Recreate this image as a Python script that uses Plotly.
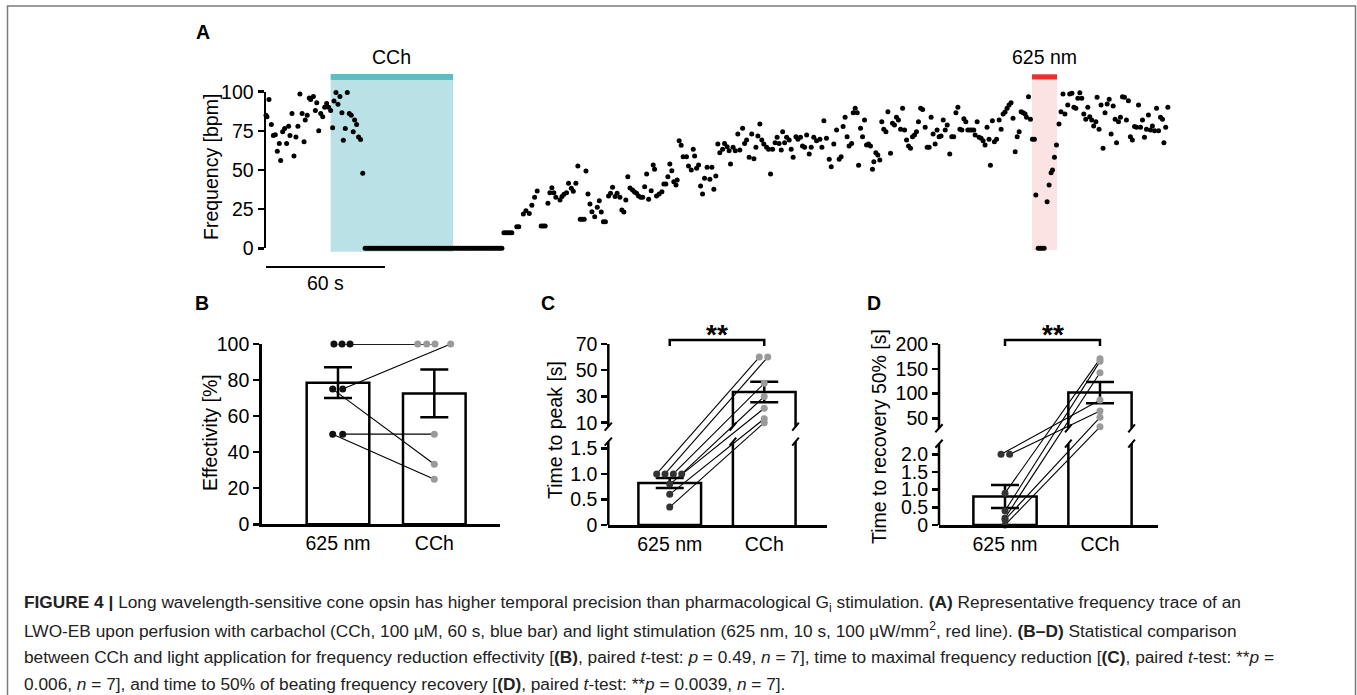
import numpy as np
import plotly.graph_objects as go

W, H = 1357, 695
FONT = "Liberation Sans, Arial, sans-serif"

# ---------------- panel A: beat frequency (bpm), ~1 reading per second ----------------
a_t_pre = [0, 0.5, 1.5, 2.7, 3.7, 4.7, 5.7, 6.7, 7.4, 8.4, 9.4, 10.4, 11.4, 12.1, 13.1, 14.1,
           15.1, 16.1, 17.1, 18.2, 19.2, 19.8, 20.8, 21.8, 22.5, 23.9, 24.9, 25.6, 26.6, 27.6,
           28.6, 29.6, 30.6, 31.6, 32.6, 33.6, 34.3, 35.3, 36.3, 37.3, 38.3, 39, 40, 41, 42,
           43, 44, 44.7, 45.7, 46.7, 47.7, 48.8]
a_f_pre = [85, 84, 95, 79, 72, 72.5, 62, 67, 56, 74.5, 76.5, 67, 78, 72, 86, 59,
           71, 78, 98.5, 86, 68, 82, 85, 96, 95, 97, 88, 93, 75, 86,
           84, 90, 92.5, 90, 88, 77, 94, 99.5, 92, 97, 86.5, 69, 76.5, 99.5, 86,
           85, 74.5, 82, 79, 71, 69.5, 48]

# runs of identical readings: start (s), end (s), value (bpm)
run_start = [50, 120, 126.5, 138.8, 158.5, 170.2, 389.5]
run_end = [119, 124, 127.5, 140.8, 160.5, 171.2, 392.5]
run_bpm = [0, 10, 13.8, 14.2, 18.5, 17, 0]

a_t_rec1 = [129.8, 131.1, 132.8, 134.1, 135.5, 136.8, 142.2, 143.2, 144.2, 145.2,
            146.2, 148.3, 149.3, 150.3, 151.6, 152.6, 154.0, 155.0, 156.3, 157.3]
a_f_rec1 = [21.9, 24.0, 22.3, 27.5, 32.6, 36.6, 28.7, 35.5, 38.7, 35.5,
            32.6, 30.8, 33.0, 34.5, 35.5, 41.5, 38.3, 36.4, 41.5, 52.6]

a_t_rec2 = [161.4, 162.4, 163.4, 164.4, 165.8, 167.1, 168.1, 169.1]
a_f_rec2 = [49.4, 34.7, 28.3, 23.4, 20.2, 26.2, 30.4, 23.2]

a_t_rec3 = [172.8, 173.8, 174.8, 176.1, 177.1, 178.5, 179.5, 180.5, 181.5, 182.5,
            183.6, 184.9, 185.9, 186.9, 187.9, 189.0, 190.0, 191.0, 192.0, 193.0,
            194.3, 195.3, 196.0, 197.0, 198.3, 199.7, 200.7, 201.7, 202.7, 203.7,
            204.7, 205.7, 206.8, 207.4, 208.4, 209.4, 210.4, 212.1, 213.1, 214.5,
            215.5, 216.2, 217.2, 218.2, 219.2, 220.2, 221.2, 222.5, 223.9, 224.9,
            225.9, 226.9, 227.9, 228.9, 230.3, 231.3, 232.6, 233.6, 234.3, 235.6,
            236.7, 238.0, 239.0, 240.4, 241.4, 242.4, 243.7, 245.0, 246.1, 247.1,
            248.1, 249.1, 250.1, 251.1, 252.5, 253.5, 254.5, 255.5, 256.8, 257.8,
            258.8, 259.9, 260.6, 261.6, 262.6, 263.9, 264.9, 265.9, 267.3, 268.3,
            269.6, 270.6, 271.7, 272.7, 274.0, 275.0, 276.3, 277.7]
a_f_rec3 = [33.4, 35.1, 39.0, 33.0, 35.1, 32.6, 24.5, 23.2, 30.8, 45.7,
            38.5, 37.2, 36.0, 35.1, 33.4, 32.6, 32.6, 39.3, 47.4, 31.3,
            36.8, 53.2, 50.4, 33.4, 34.7, 36.1, 41.0, 41.0, 45.7, 53.8,
            49.6, 42.5, 40.4, 43.6, 68.7, 65.8, 58.5, 58.5, 52.6, 50.0,
            63.2, 58.9, 51.1, 53.2, 39.8, 34.7, 44.7, 51.7, 44.1, 51.7,
            37.7, 46.2, 66.6, 61.0, 63.2, 67.0, 64.9, 62.3, 53.8, 64.5,
            62.3, 73.0, 62.8, 76.6, 67.0, 69.2, 58.1, 73.0, 57.2, 64.5,
            71.7, 79.4, 69.2, 66.6, 64.5, 63.2, 47.4, 63.2, 67.4, 70.9,
            67.0, 62.8, 74.5, 67.4, 70.9, 69.2, 63.2, 58.1, 71.3, 69.6,
            70.9, 65.3, 64.5, 72.3, 60.2, 64.5, 70.9, 68.7]

a_t_rec4 = [279.4, 280.4, 281.4, 282.7, 284.1, 285.1, 286.4, 287.8, 289.1, 290.1,
            291.1, 292.1, 293.1, 294.1, 295.4, 296.2, 297.2, 298.2, 298.9, 299.9,
            300.9, 301.9, 302.9, 303.9, 304.9, 305.9, 306.6, 307.6, 308.6, 309.6,
            310.6, 311.6, 312.7, 313.7, 315.0, 316.0, 317.0, 318.0, 319.0, 320.1,
            321.1, 322.1, 323.1, 324.1, 325.1, 326.1, 327.1, 328.1, 329.1, 330.2,
            331.2, 332.5, 333.5, 334.5, 335.5, 336.5, 337.5, 338.5, 339.5, 340.5,
            341.6, 342.6, 343.6, 344.9, 345.9, 346.9, 348.0, 349.0, 350.0, 351.0,
            352.0, 353.0, 354.0, 355.0, 356.0, 357.0, 357.7, 358.7, 359.7, 360.7,
            361.7, 362.7, 363.7, 364.7, 365.4, 366.4, 367.4, 368.5, 369.8, 370.8,
            371.8, 372.8, 373.8, 374.8, 375.8, 376.8, 377.9, 378.9, 379.9, 380.9,
            381.9, 382.9, 383.6, 384.6, 385.6, 386.6, 387.6, 388.3]
a_f_rec4 = [69.6, 64.5, 81.5, 70.2, 56.8, 52.1, 66.6, 75.5, 56.8, 58.5,
            77.7, 83.7, 71.3, 65.3, 67.0, 86.6, 89.4, 86.6, 53.0, 76.6,
            71.3, 81.9, 66.0, 66.6, 65.3, 50.4, 55.3, 61.0, 59.6, 56.4,
            80.8, 76.0, 74.5, 87.2, 60.7, 79.8, 78.7, 83.7, 81.9, 76.0,
            89.4, 75.5, 69.2, 65.3, 63.9, 71.3, 72.3, 74.5, 80.8, 89.4,
            88.7, 77.3, 64.5, 64.5, 83.7, 73.0, 66.6, 75.5, 71.3, 71.7,
            81.9, 75.5, 78.7, 60.2, 71.3, 71.3, 86.6, 90.0, 76.0, 75.5,
            82.8, 80.8, 75.5, 75.5, 75.5, 75.5, 72.3, 80.8, 70.9, 70.2,
            68.7, 66.0, 77.3, 69.6, 53.0, 81.5, 68.1, 69.6, 81.9, 76.0,
            85.8, 87.0, 89.4, 91.5, 93.0, 83.0, 61.7, 71.3, 74.5, 87.2,
            86.6, 85.8, 83.7, 96.8, 82.4, 69.6, 69.6, 34.0]

a_t_rec5 = [394.0, 395.0, 396.0, 396.7, 397.7, 398.7, 400.0, 401.0, 402.0, 403.0,
            404.4, 405.4, 406.5, 407.5, 408.5, 409.5, 410.5, 411.5, 412.5, 413.5,
            414.5, 415.5, 416.5, 417.5, 418.6, 419.2, 420.2, 421.2, 422.2, 423.2,
            424.3, 425.3, 426.3, 427.3, 428.3, 429.0, 430.0, 431.0, 432.0, 433.0,
            434.0, 435.0, 436.0, 437.0, 438.1, 439.1, 440.1, 441.1, 442.1, 443.1,
            444.1, 445.1, 446.1, 447.1, 448.2, 449.2, 450.2, 451.2, 452.2, 452.9,
            453.8, 454.9]
a_f_rec5 = [29.8, 40.4, 48.3, 50.0, 58.1, 66.0, 79.4, 87.2, 98.5, 85.8,
            91.5, 98.5, 99.0, 90.0, 89.4, 95.8, 99.4, 95.8, 85.8, 82.4,
            90.0, 84.0, 81.9, 78.1, 80.8, 96.4, 76.0, 91.5, 63.9, 86.6,
            92.1, 95.1, 73.0, 90.9, 82.4, 67.4, 80.8, 83.7, 96.8, 96.4,
            81.9, 94.3, 71.3, 69.2, 77.7, 77.3, 91.5, 77.3, 81.9, 70.9,
            76.0, 85.1, 75.5, 78.1, 75.1, 89.4, 75.1, 83.7, 82.4, 67.4,
            77.3, 90.0]

cch_on, cch_off = 32.6, 94.4       # s
light_on, light_off = 386.4, 399.0  # s
scale_bar_s = 60

# ---------------- panels B-D: paired measurements, n = 7 ----------------
groups = ["625 nm", "CCh"]
eff_625 = [100, 100, 100, 75, 75, 50, 50]
eff_cch = [100, 100, 100, 100, 33.3, 50, 25]
peak_625 = [1.0, 1.0, 1.0, 1.0, 0.8, 0.6, 0.35]
peak_cch = [60, 60, 40, 30, 21, 13, 10]
rec_625 = [2.0, 2.0, 0.9, 0.4, 0.2, 0.15, 0.0]
rec_cch = [87, 65, 170, 165, 142, 52, 33]

# horizontal spread of the dots (layout only)
jit_b = ([0.125, 0.042, -0.042, 0.049, -0.055, 0.049, -0.055],
         [-0.172, -0.079, 0.007, 0.170, 0, 0, 0])
jit_c = ([-0.138, -0.05, 0.038, 0.127, 0, 0, 0],
         [-0.052, 0.037, 0, 0, 0, 0, 0])
jit_d = ([-0.042, 0.049, 0, 0, 0, 0, 0],
         [0, 0, 0, 0, 0, 0, 0])


def px_x(px):
    return px / W


def px_y(py):
    return 1 - py / H


def mean_sem(v):
    v = np.asarray(v, float)
    return v.mean(), v.std(ddof=1) / np.sqrt(len(v))


# broken y scale: lower part (px per unit), upper part starts at up_from
class Broken:
    def __init__(self, low_px, low_top, up_from, up_base, up_px):
        self.low_px, self.low_top = low_px, low_top
        self.up_from, self.up_base, self.up_px = up_from, up_base, up_px

    def __call__(self, v):
        v = np.asarray(v, float)
        return np.where(v <= self.up_from, v * self.low_px,
                        self.up_base + (v - self.up_from) * self.up_px)


brk_c = Broken(51.1, 1.63, 6.95, 98.3, 1.311)
brk_d = Broken(35.33, 2.3, 30, 96.7, 0.4956)

fig = go.Figure()
shapes = []
annotations = []


def ann(text, x, y, size=19.5, xref="paper", yref="paper", **kw):
    annotations.append(dict(text=text, x=x, y=y, xref=xref, yref=yref, showarrow=False,
                            xanchor="center", yanchor="middle",
                            font=dict(family=FONT, size=size, color="black"), **kw))


# ---------------- panel A ----------------
run_t, run_f = [], []
for s, e, v in zip(run_start, run_end, run_bpm):
    ts = np.arange(s, e + 0.01, 1.0)
    run_t += list(ts)
    run_f += [v] * len(ts)

a_t = a_t_pre + run_t + a_t_rec1 + a_t_rec2 + a_t_rec3 + a_t_rec4 + a_t_rec5
a_f = a_f_pre + run_f + a_f_rec1 + a_f_rec2 + a_f_rec3 + a_f_rec4 + a_f_rec5
fig.add_trace(go.Scatter(x=a_t, y=a_f, mode="markers", cliponaxis=False,
                         marker=dict(size=5, color="black"), xaxis="x", yaxis="y",
                         showlegend=False, hoverinfo="skip"))

shapes += [
    dict(type="rect", xref="x", yref="paper", x0=cch_on, x1=cch_off, y0=px_y(251.7), y1=px_y(80),
         fillcolor="#b9e1e6", line=dict(width=0), layer="below"),
    dict(type="rect", xref="x", yref="paper", x0=cch_on, x1=cch_off, y0=px_y(80), y1=px_y(74),
         fillcolor="#5dbfc6", line=dict(width=0), layer="below"),
    dict(type="rect", xref="x", yref="paper", x0=light_on, x1=light_off, y0=px_y(250), y1=px_y(79.5),
         fillcolor="#fbe3e3", line=dict(width=0), layer="below"),
    dict(type="rect", xref="x", yref="paper", x0=light_on, x1=light_off, y0=px_y(79.5), y1=px_y(74.3),
         fillcolor="#e8312f", line=dict(width=0), layer="below"),
    dict(type="line", xref="x", yref="paper", x0=0, x1=scale_bar_s, y0=px_y(267), y1=px_y(267),
         line=dict(color="black", width=2)),
]
ann("<b>A</b>", px_x(203), px_y(32))
ann("CCh", (cch_on + cch_off) / 2, px_y(57), xref="x")
ann("625 nm", (light_on + light_off) / 2, px_y(57), xref="x")
ann("60 s", scale_bar_s / 2, px_y(283), xref="x")
ann("Frequency [bpm]", px_x(211), px_y(167), textangle=-90)


# ---------------- bar panels ----------------
def pair_lines(v1, v2, j1, j2, ax, tf=lambda v: v):
    xs, ys = [], []
    for a, b, ja, jb in zip(v1, v2, j1, j2):
        xs += [0 + ja, 1 + jb, None]
        ys += [float(tf(a)), float(tf(b)), None]
    fig.add_trace(go.Scatter(x=xs, y=ys, mode="lines", line=dict(color="black", width=1.1),
                             xaxis="x" + ax, yaxis="y" + ax, showlegend=False, hoverinfo="skip"))


def dots(v, j, pos, color, ax, tf=lambda v: v):
    fig.add_trace(go.Scatter(x=[pos + k for k in j], y=list(np.asarray(tf(v), float)), mode="markers",
                             cliponaxis=False, marker=dict(size=7, color=color),
                             xaxis="x" + ax, yaxis="y" + ax, showlegend=False, hoverinfo="skip"))


# B
m1, s1 = mean_sem(eff_625)
m2, s2 = mean_sem(eff_cch)
fig.add_trace(go.Bar(x=[0, 1], y=[m1, m2], width=0.65, xaxis="x2", yaxis="y2",
                     marker=dict(color="white", line=dict(color="black", width=2.5)),
                     error_y=dict(type="data", array=[s1, s2], color="black", thickness=2.5, width=14),
                     showlegend=False, hoverinfo="skip"))
pair_lines(eff_625, eff_cch, jit_b[0], jit_b[1], "2")
dots(eff_625, jit_b[0], 0, "#111111", "2")
dots(eff_cch, jit_b[1], 1, "#9a9a9a", "2")
ann("<b>B</b>", px_x(202), px_y(303))
ann("Effectivity [%]", px_x(210), px_y(433), textangle=-90)


def broken_panel(v1, v2, jit, brk, ax, width, top_val):
    m1, s1 = mean_sem(v1)
    m2, s2 = mean_sem(v2)
    t1, t2 = float(brk(m1)), float(brk(m2))
    fig.add_trace(go.Bar(
        x=[0, 1], y=[t1, t2], width=width, xaxis="x" + ax, yaxis="y" + ax,
        marker=dict(color="white", line=dict(color="black", width=[2.5, 0])),
        error_y=dict(type="data", symmetric=False,
                     array=[float(brk(m1 + s1)) - t1, float(brk(m2 + s2)) - t2],
                     arrayminus=[t1 - float(brk(m1 - s1)), t2 - float(brk(m2 - s2))],
                     color="black", thickness=2.5, width=14),
        showlegend=False, hoverinfo="skip"))
    lo = brk.low_top * brk.low_px
    up = brk.up_base
    xl, xr = 1 - width / 2, 1 + width / 2
    fig.add_trace(go.Scatter(x=[xl, xl, None, xl, xl, xr, xr, None, xr, xr],
                             y=[0, lo, None, up, t2, t2, up, None, lo, 0],
                             mode="lines", line=dict(color="black", width=2.5),
                             xaxis="x" + ax, yaxis="y" + ax, showlegend=False, hoverinfo="skip"))
    pair_lines(v1, v2, jit[0], jit[1], ax, brk)
    dots(v1, jit[0], 0, "#333333", ax, brk)
    dots(v2, jit[1], 1, "#9a9a9a", ax, brk)
    # broken y axis line
    for y0, y1 in [(0, lo), (up, float(brk(top_val)))]:
        shapes.append(dict(type="line", xref="x%s domain" % ax, yref="y" + ax, x0=0, x1=0,
                           y0=y0, y1=y1, line=dict(color="black", width=2.5)))
    # break marks on axis and bar edges
    dom = 0.0165
    for yb in (lo, up):
        shapes.append(dict(type="line", xref="x%s domain" % ax, yref="y" + ax,
                           x0=-dom, x1=dom, y0=yb - 4, y1=yb + 4, line=dict(color="black", width=2)))
        for xe in (xl, xr):
            shapes.append(dict(type="line", xref="x" + ax, yref="y" + ax,
                               x0=xe - 0.035, x1=xe + 0.035, y0=yb - 4, y1=yb + 4,
                               line=dict(color="black", width=2)))
    # significance bracket
    shapes.append(dict(type="path", xref="x" + ax, yref="paper",
                       path="M 0,%f L 0,%f L 1,%f L 1,%f" % (px_y(346), px_y(340), px_y(340), px_y(346)),
                       line=dict(color="black", width=2.5)))
    ann("<b>**</b>", 0.5, px_y(334), size=28, xref="x" + ax)


broken_panel(peak_625, peak_cch, jit_c, brk_c, "3", 0.663, 70)
ann("<b>C</b>", px_x(548), px_y(303))
ann("Time to peak [s]", px_x(555), px_y(430), textangle=-90)

broken_panel(rec_625, rec_cch, jit_d, brk_d, "4", 0.666, 200)
ann("<b>D</b>", px_x(874), px_y(303))
ann("Time to recovery 50% [s]", px_x(879), px_y(437), textangle=-90)

# ---------------- caption ----------------
caption = [
    "<b>FIGURE 4 |</b> Long wavelength-sensitive cone opsin has higher temporal precision than "
    "pharmacological G<sub>i</sub> stimulation. <b>(A)</b> Representative frequency trace of an",
    "LWO-EB upon perfusion with carbachol (CCh, 100 µM, 60 s, blue bar) and light stimulation "
    "(625 nm, 10 s, 100 µW/mm<sup>2</sup>, red line). <b>(B–D)</b> Statistical comparison",
    "between CCh and light application for frequency reduction effectivity [<b>(B)</b>, paired "
    "<i>t</i>-test: <i>p</i> = 0.49, <i>n</i> = 7], time to maximal frequency reduction "
    "[<b>(C)</b>, paired <i>t</i>-test: **<i>p</i> =",
    "0.006, <i>n</i> = 7], and time to 50% of beating frequency recovery [<b>(D)</b>, paired "
    "<i>t</i>-test: **<i>p</i> = 0.0039, <i>n</i> = 7].",
]
for k, line in enumerate(caption):
    annotations.append(dict(text=line, x=px_x(22), y=px_y(603 + 27 * k), xref="paper", yref="paper",
                            xanchor="left", yanchor="middle", showarrow=False,
                            font=dict(family=FONT, size=17.3, color="#222222")))

# outer frame
shapes.append(dict(type="rect", xref="paper", yref="paper", x0=px_x(7.5), x1=px_x(1355.5),
                   y0=-0.02, y1=px_y(6), line=dict(color="#7a7a7a", width=1.5)))

tick_font = dict(family=FONT, size=19.5, color="black")
yax_common = dict(ticks="outside", ticklen=6, tickwidth=2.5, tickcolor="black", showgrid=False,
                  zeroline=False, tickfont=tick_font, fixedrange=True, automargin=False)
xbar_common = dict(tickvals=[0, 1], ticktext=groups, showline=True, linewidth=2.5, linecolor="black",
                   ticks="", showgrid=False, zeroline=False, tickfont=tick_font, ticklabelstandoff=0,
                   automargin=False)

c_ticks = [0, 0.5, 1.0, 1.5, 10, 30, 50, 70]
d_ticks = [0, 0.5, 1.0, 1.5, 2.0, 50, 100, 150, 200]

fig.update_layout(
    width=W, height=H, autosize=False, margin=dict(l=0, r=0, t=0, b=0, pad=0, autoexpand=False),
    paper_bgcolor="white", plot_bgcolor="rgba(0,0,0,0)", font=dict(family=FONT, color="black"),
    bargap=0, shapes=shapes, annotations=annotations, showlegend=False,
    xaxis=dict(domain=[px_x(266), px_x(1174)], range=[0, 458], visible=False, anchor="y", automargin=False),
    yaxis=dict(domain=[px_y(248.3), px_y(91.7)], range=[0, 100], tickvals=[0, 25, 50, 75, 100],
               showline=True, linewidth=2.5, linecolor="black", anchor="x", **yax_common),
    xaxis2=dict(domain=[px_x(261.7), px_x(500)], range=[-0.792, 1.682], anchor="y2", **xbar_common),
    yaxis2=dict(domain=[px_y(524.3), px_y(344)], range=[0, 100], tickvals=[0, 20, 40, 60, 80, 100],
                showline=True, linewidth=2.5, linecolor="black", anchor="x2", **yax_common),
    xaxis3=dict(domain=[px_x(608.3), px_x(826.7)], range=[-0.65, 1.661], anchor="y3", **xbar_common),
    yaxis3=dict(domain=[px_y(525), px_y(344)], range=[0, float(brk_c(70))],
                tickvals=[float(brk_c(v)) for v in c_ticks],
                ticktext=["0", "0.5", "1.0", "1.5", "10", "30", "50", "70"],
                showline=False, anchor="x3", **yax_common),
    xaxis4=dict(domain=[px_x(939), px_x(1158.3)], range=[-0.695, 1.614], anchor="y4", **xbar_common),
    yaxis4=dict(domain=[px_y(525), px_y(344)], range=[0, float(brk_d(200))],
                tickvals=[float(brk_d(v)) for v in d_ticks],
                ticktext=["0", "0.5", "1.0", "1.5", "2.0", "50", "100", "150", "200"],
                showline=False, anchor="x4", **yax_common),
)

fig.write_html("out.html", config={"displayModeBar": False, "staticPlot": True},
               post_script="document.body.style.margin='0';document.body.style.overflow='hidden';")
